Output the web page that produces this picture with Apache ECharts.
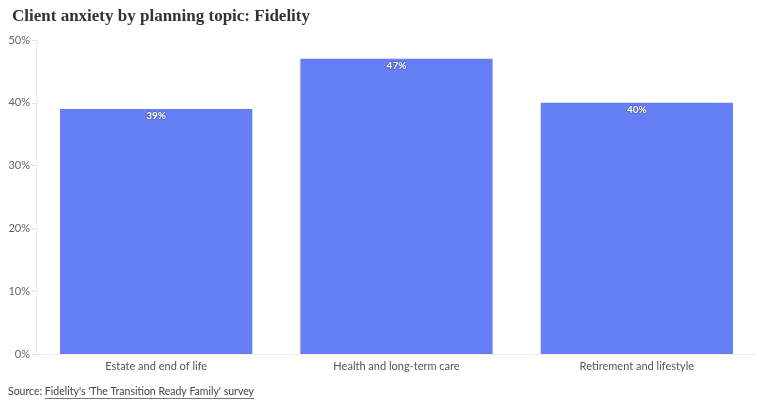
<!DOCTYPE html>
<html>
<head>
<meta charset="utf-8">
<script src="https://cdn.jsdelivr.net/npm/echarts@6/dist/echarts.min.js"></script>
<style>
  html, body { margin: 0; padding: 0; background: #fff; }
  #main { width: 768px; height: 403px; }
</style>
</head>
<body>
<div id="main"></div>
<script>
var categories = ['Estate and end of life', 'Health and long-term care', 'Retirement and lifestyle'];
var values = [39, 47, 40];
var yTicks = [0, 10, 20, 30, 40, 50];

var myChart = echarts.init(document.getElementById('main'));

// measure the source prefix so the underlined link can follow it
var srcFont = '10.5px Lato';
var srcPrefix = 'Source: ';
var srcLink = "Fidelity's 'The Transition Ready Family' survey";
var ctx = document.createElement('canvas').getContext('2d');
ctx.font = srcFont;
var prefixW = ctx.measureText(srcPrefix).width;
var linkW = ctx.measureText(srcLink).width;

var option = {
    animation: false,
    title: {
        text: 'Client anxiety by planning topic: Fidelity',
        left: 7,
        top: 3,
        textStyle: {
            fontFamily: 'Liberation Serif',
            fontWeight: 'bold',
            fontSize: 17,
            color: '#333'
        }
    },
    graphic: [
        {
            type: 'text',
            left: 8,
            top: 386,
            style: { text: srcPrefix, font: srcFont, fill: '#444' }
        },
        {
            type: 'text',
            left: 8 + prefixW,
            top: 386,
            style: { text: srcLink, font: srcFont, fill: '#444' }
        },
        {
            type: 'line',
            shape: { x1: 8 + prefixW, y1: 398.5, x2: 8 + prefixW + linkW, y2: 398.5 },
            style: { stroke: '#555', lineWidth: 0.8 }
        }
    ],
    grid: {
        left: 36,
        right: 11,
        top: 40,
        bottom: 49
    },
    xAxis: {
        type: 'category',
        data: categories,
        axisLine: { lineStyle: { color: '#eee' } },
        axisTick: { show: false },
        axisLabel: {
            fontFamily: 'Lato',
            fontSize: 11,
            color: '#555',
            margin: 7
        }
    },
    yAxis: {
        type: 'value',
        min: yTicks[0],
        max: yTicks[yTicks.length - 1],
        interval: 10,
        splitLine: { show: false },
        axisLine: { show: true, lineStyle: { color: '#eee' } },
        axisTick: { show: true, length: 4, lineStyle: { color: '#ddd' } },
        axisLabel: {
            fontFamily: 'Lato',
            fontSize: 11,
            color: '#666',
            margin: 6,
            formatter: '{value}%'
        }
    },
    series: [
        {
            type: 'bar',
            data: values,
            barWidth: '80%',
            itemStyle: { color: '#667ff6' },
            label: {
                show: true,
                position: 'insideTop',
                distance: 2,
                formatter: '{c}%',
                fontFamily: 'Lato',
                fontSize: 10,
                fontWeight: 'bold',
                color: '#fff',
                textBorderColor: 'rgba(60,70,120,0.5)',
                textBorderWidth: 1.5
            }
        }
    ]
};

myChart.setOption(option);
</script>
</body>
</html>
